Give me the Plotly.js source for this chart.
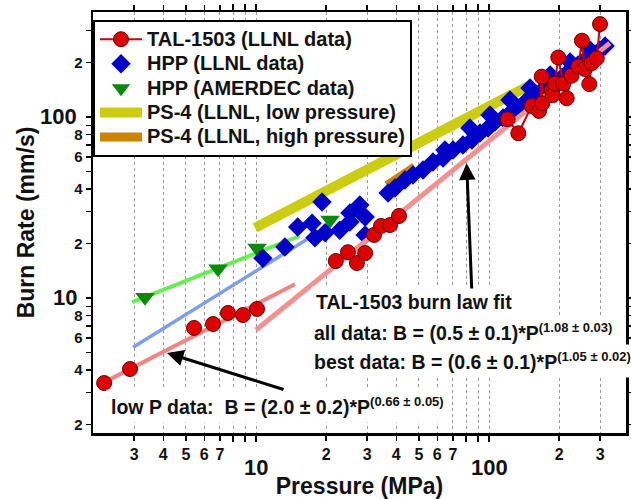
<!DOCTYPE html>
<html><head><meta charset="utf-8">
<script src="https://cdn.plot.ly/plotly-3.0.1.min.js"></script>
<style>html,body{margin:0;padding:0;background:#fff}#chart{width:631px;height:499px}</style>
</head><body><div id="chart"></div>
<script>
// TAL-1503 (LLNL data)
const talLowP = [2.23, 2.88, 5.42, 6.54, 7.58, 8.79, 10.1];
const talLowB = [3.39, 4.05, 6.83, 7.18, 8.26, 8.05, 8.70];
const talMidP = [22.0, 24.8, 27.1, 29.4, 32.1, 34.4, 37.6, 41.1];
const talMidB = [16.0, 17.9, 15.6, 17.7, 22.3, 25.0, 25.3, 28.4];
const talHighP = [120.3, 133.6, 152.5, 164, 168.4, 169.4, 186, 187.6, 191.9, 198.3, 208.2, 215.5, 226, 241.7, 250.6, 258, 269.4, 275.8, 290, 299.5];
const talHighB = [97.1, 81.3, 115, 108, 167, 119, 140, 132, 153, 213, 153, 127, 169, 190, 264, 184, 152, 198, 211, 326];
// HPP (LLNL data)
const hppP = [10.7, 13.3, 15.1, 17.4, 17.9, 19.2, 19.8, 22.9, 25.3, 25.3, 27.9, 29.4, 29.4, 36.9, 39.5, 43.6, 47.2, 52.1, 57.5, 63.5, 64.7, 70.1, 77.3, 84.5, 91.5, 99.1, 106, 115, 123, 133, 143, 154, 166, 179, 192, 206, 223, 241, 258, 277, 299, 315,
              82.8, 101, 123, 150, 183, 223, 272];
const hppB = [16.6, 19.1, 24.7, 25.9, 21.5, 33.9, 22.9, 23.7, 29.5, 26.3, 32.6, 28.0, 22.3, 38.0, 40.5, 44.9, 47.8, 50.9, 56.4, 59.4, 65.7, 65.7, 70.0, 74.6, 81.6, 86.9, 93.8, 98.7, 105, 112, 121, 131, 137, 148, 160, 166, 182, 194, 206, 220, 234, 247,
              86.9, 102.6, 124, 144.5, 170.6, 201, 234];
// HPP (AMERDEC data)
const amerP = [3.34, 6.87, 10.1, 20.8];
const amerB = [10.1, 14.5, 18.9, 27.0];
// PS-4 lines
const ps4LowP = [9.9, 150];
const ps4LowB = [24.4, 150];
const ps4HighP = [36.5, 48];
const ps4HighB = [41.8, 53];
// fit lines
const amerFitP = [2.94, 15.4];
const amerFitB = [9.5, 22.0];
const hppFitP = [2.97, 20.8];
const hppFitB = [5.35, 25.3];
const talLowFitP = [2.08, 14.7];
const talLowFitB = [3.27, 11.9];
const talFitP = [10.0, 330];
const talFitB = [6.66, 256];
// ticks
const xTickVals = [3, 4, 5, 6, 7, 20, 30, 40, 50, 60, 70, 200, 300];
const xTickText = ['3', '4', '5', '6', '7', '2', '3', '4', '5', '6', '7', '2', '3'];
const xMinorVals = [8, 9, 10, 80, 90, 100];
const yTickVals = [2, 4, 6, 8, 20, 40, 60, 80, 200];
const yTickText = ['2', '4', '6', '8', '2', '4', '6', '8', '2'];
const yMinorVals = [3, 5, 7, 9, 10, 30, 50, 70, 90, 100, 300];
const majorVals = [10, 100];
const majorText = ['10', '100'];
// legend names
const names = ['TAL-1503 (LLNL data)', 'HPP (LLNL data)', 'HPP (AMERDEC data)', 'PS-4 (LLNL, low pressure)', 'PS-4 (LLNL, high pressure)'];

const FONT = 'Liberation Sans, Arial, sans-serif';
const L = Math.log10;
const nm = s => '<span style="font-size:20px">' + s + '</span>';

const traces = [
  {x: ps4LowP, y: ps4LowB, mode: 'lines', name: nm(names[3]), legendrank: 4,
   line: {color: '#cccc10', width: 10}},
  {x: ps4HighP, y: ps4HighB, mode: 'lines', name: nm(names[4]), legendrank: 5,
   line: {color: '#cc8400', width: 9}},
  {x: amerFitP, y: amerFitB, mode: 'lines', showlegend: false, line: {color: '#66ee55', width: 4}},
  {x: hppFitP, y: hppFitB, mode: 'lines', showlegend: false, line: {color: '#7f9def', width: 3.5}},
  {x: amerP, y: amerB, mode: 'markers', name: nm(names[2]), legendrank: 3,
   marker: {symbol: 'triangle-down', size: 17, color: '#0a8a0a'}},
  {x: hppP, y: hppB, mode: 'markers', name: nm(names[1]), legendrank: 2,
   marker: {symbol: 'diamond', size: 15, color: '#0000c8'}},
  {x: talLowFitP, y: talLowFitB, mode: 'lines', showlegend: false, line: {color: '#f08585', width: 4}},
  {x: talFitP, y: talFitB, mode: 'lines', showlegend: false, line: {color: '#f39090', width: 5}},
  {x: talLowP, y: talLowB, mode: 'markers', showlegend: false,
   marker: {symbol: 'circle', size: 15, color: '#dd0000', line: {color: '#6a0000', width: 1}}},
  {x: talMidP, y: talMidB, mode: 'markers', showlegend: false,
   marker: {symbol: 'circle', size: 15, color: '#dd0000', line: {color: '#6a0000', width: 1}}},
  {x: talHighP, y: talHighB, mode: 'lines+markers', name: nm(names[0]), legendrank: 1,
   line: {color: '#cc0000', width: 2},
   marker: {symbol: 'circle', size: 15, color: '#dd0000', line: {color: '#6a0000', width: 1}}}
];

const px = v => (v - 93) / 533;
const py = v => (433 - v) / 421;

const bigFont = {family: FONT, size: 22, color: '#111', weight: 'bold'};
const annBase = {showarrow: false, font: {family: FONT, size: 19.5, color: '#111', weight: 'bold'}};
const sup = s => '<sup><span style="font-size:13px">' + s + '</span></sup>';
const annotations = [
  {xref: 'x', x: L(majorVals[0]), yref: 'paper', y: py(467), yanchor: 'middle', xanchor: 'center', text: majorText[0], showarrow: false, font: bigFont},
  {xref: 'x', x: L(majorVals[1]), yref: 'paper', y: py(467), yanchor: 'middle', xanchor: 'center', text: majorText[1], showarrow: false, font: bigFont},
  {xref: 'paper', x: px(79), xanchor: 'right', yref: 'y', y: L(majorVals[0]), yanchor: 'middle', text: majorText[0], showarrow: false, font: bigFont},
  {xref: 'paper', x: px(79), xanchor: 'right', yref: 'y', y: L(majorVals[1]), yanchor: 'middle', text: majorText[1], showarrow: false, font: bigFont},
  Object.assign({}, annBase, {xref: 'paper', yref: 'paper', x: px(311), y: py(302), xanchor: 'left', yanchor: 'middle',
   text: 'TAL-1503 burn law fit', bgcolor: '#fff', borderpad: 4}),
  Object.assign({}, annBase, {xref: 'paper', yref: 'paper', x: px(309), y: py(332), xanchor: 'left', yanchor: 'middle',
   text: 'all data: B = (0.5 ± 0.1)*P' + sup('(1.08 ± 0.03)'), bgcolor: '#fff', borderpad: 4}),
  Object.assign({}, annBase, {xref: 'paper', yref: 'paper', x: px(309), y: py(361), xanchor: 'left', yanchor: 'middle',
   text: 'best data: B = (0.6 ± 0.1)*P' + sup('(1.05 ± 0.02)'), bgcolor: '#fff', borderpad: 4}),
  Object.assign({}, annBase, {xref: 'paper', yref: 'paper', x: px(106), y: py(406), xanchor: 'left', yanchor: 'middle',
   text: 'low P data:\u00a0 B = (2.0 ± 0.2)*P' + sup('(0.66 ± 0.05)'), bgcolor: '#fff', borderpad: 4}),
  {xref: 'x', yref: 'y', axref: 'x', ayref: 'y', x: 0.618, y: 0.696, ax: 1.1245, ay: 0.492, text: '',
   showarrow: true, arrowhead: 2, arrowsize: 1.1, arrowwidth: 3, arrowcolor: '#000', standoff: 0, startstandoff: 0},
  {xref: 'x', yref: 'y', axref: 'x', ayref: 'y', x: 1.904, y: 1.744, ax: 1.926, ay: 1.044, text: '',
   showarrow: true, arrowhead: 2, arrowsize: 1.1, arrowwidth: 3, arrowcolor: '#000', standoff: 0, startstandoff: 0}
];

const layout = {
  width: 631, height: 499,
  margin: {l: 93, r: 5, t: 12, b: 66},
  paper_bgcolor: '#fff', plot_bgcolor: '#fff',
  font: {family: FONT, color: '#111'},
  showlegend: true,
  legend: {x: 0, y: py(20), xanchor: 'left', yanchor: 'top', bgcolor: '#fff', bordercolor: '#000', borderwidth: 2,
    itemwidth: 42, font: {family: FONT, size: 16.5, color: '#111', weight: 'bold'}},
  xaxis: {type: 'log', range: [0.3004, 2.588], tickmode: 'array', tickvals: xTickVals, ticktext: xTickText,
    ticks: 'outside', ticklen: 5, tickwidth: 1.5, tickcolor: '#000',
    showline: true, linecolor: '#000', linewidth: 2.5, mirror: 'ticks',
    showgrid: true, gridcolor: '#999', griddash: 'dot', gridwidth: 1, zeroline: false,
    tickfont: {family: FONT, size: 16, color: '#111', weight: 'bold'},
    minor: {tickmode: 'array', tickvals: xMinorVals, ticks: 'outside', ticklen: 6, tickwidth: 2, tickcolor: '#000',
      showgrid: true, gridcolor: '#999', griddash: 'dot', gridwidth: 1},
    title: {text: 'Pressure (MPa)', font: {family: FONT, size: 23, color: '#111', weight: 'bold'}, standoff: 20},
    automargin: false},
  yaxis: {type: 'log', range: [0.2541, 2.580], tickmode: 'array', tickvals: yTickVals, ticktext: yTickText,
    ticks: 'outside', ticklen: 5, tickwidth: 1.5, tickcolor: '#000',
    showline: true, linecolor: '#000', linewidth: 2.5, mirror: 'ticks',
    showgrid: false, zeroline: false,
    tickfont: {family: FONT, size: 15, color: '#111', weight: 'bold'},
    minor: {tickmode: 'array', tickvals: yMinorVals, ticks: 'outside', ticklen: 5, tickwidth: 1.5, tickcolor: '#000', showgrid: false},
    title: {text: 'Burn Rate (mm/s)', font: {family: FONT, size: 23, color: '#111', weight: 'bold'}, standoff: 33},
    automargin: false},
  annotations: annotations
};

Plotly.newPlot('chart', traces, layout, {displayModeBar: false, staticPlot: true});
</script>
</body></html>
